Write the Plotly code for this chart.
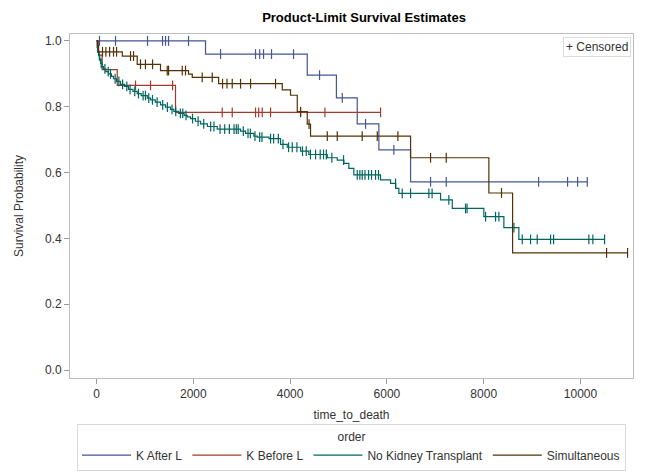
import numpy as np
import plotly.graph_objects as go

# ---------------- data ----------------
groups = ["K After L", "K Before L", "No Kidney Transplant", "Simultaneous"]

# K After L
kal_event_t = [2252, 4354, 4957, 5387, 5834, 6489]
kal_event_s = [0.960, 0.896, 0.827, 0.748, 0.669, 0.572]
kal_cens_t = [62, 393, 1054, 1364, 1426, 1488, 1901, 2563, 3286, 3371, 3451, 3616, 4071,
              4608, 5078, 5559, 6144, 6902, 7226, 9134, 9733, 9940, 10140]

# K Before L
kbl_event_t = [41, 117, 428, 1632]
kbl_event_s = [0.957, 0.913, 0.865, 0.783]
kbl_cens_t = [806, 1116, 1571, 2597, 2804, 3286, 3351, 3424, 3596, 4216, 4719, 5869]

# No Kidney Transplant
nkt_event_t = [14, 29, 47, 67, 83, 116, 144, 193, 248, 308, 351, 414, 496, 578, 662, 751,
               841, 924, 1048, 1116, 1213, 1322, 1425, 1529, 1598, 1695, 1810, 1874, 1942,
               2042, 2149, 2292, 2494, 2976, 3079, 3251, 3320, 3563, 3802, 3941, 4216, 4387,
               4768, 4974, 5111, 5214, 5317, 5869, 6076, 6182, 6247, 7109, 7351, 8003, 8417,
               8727]
nkt_event_s = [0.980, 0.965, 0.955, 0.945, 0.932, 0.922, 0.915, 0.907, 0.900, 0.892, 0.885,
               0.877, 0.868, 0.862, 0.853, 0.847, 0.840, 0.834, 0.826, 0.821, 0.814, 0.806,
               0.799, 0.792, 0.786, 0.780, 0.774, 0.769, 0.764, 0.756, 0.748, 0.740, 0.732,
               0.726, 0.719, 0.711, 0.708, 0.703, 0.686, 0.677, 0.665, 0.655, 0.645, 0.638,
               0.628, 0.613, 0.593, 0.578, 0.567, 0.552, 0.537, 0.517, 0.491, 0.466, 0.433,
               0.397]
nkt_cens_t = [24, 58, 96, 173, 241, 289, 385, 462, 539, 626, 693, 790, 867, 963, 1011, 1079,
              1156, 1252, 1367, 1464, 1560, 1637, 1733, 1782, 1849, 1984, 2099, 2215, 2359,
              2427, 2552, 2648, 2745, 2841, 2889, 2928, 3033, 3130, 3178, 3274, 3371, 3419,
              3596, 3659, 3756, 3852, 3968, 4045, 4141, 4256, 4334, 4420, 4526, 4622, 4690,
              4748, 4863, 5104, 5387, 5441, 5490, 5547, 5621, 5682, 5765, 5827, 6179, 6317,
              6489, 6867, 6934, 7280, 7625, 7656, 8039, 8245, 8314, 8624, 8797, 8968, 9106,
              9382, 9444, 10173, 10256, 10498]

# Simultaneous
sim_event_t = [19, 41, 532, 841, 1322, 1901, 1978, 2523, 3838, 4009, 4148, 4354, 4422, 6489,
               8107, 8597]
sim_event_s = [0.985, 0.967, 0.954, 0.929, 0.910, 0.899, 0.889, 0.870, 0.851, 0.835, 0.785,
               0.747, 0.711, 0.645, 0.538, 0.356]
sim_cens_t = [124, 193, 270, 351, 414, 703, 765, 909, 1011, 1158, 1461, 1488, 1771, 1839,
              2184, 2391, 2604, 2696, 2804, 2976, 3183, 3699, 4216, 4391, 4768, 4974, 5490,
              5801, 6227, 6902, 7226, 8368, 10539, 10973]

x_ticks = [0, 2000, 4000, 6000, 8000, 10000]
y_ticks = [0.0, 0.2, 0.4, 0.6, 0.8, 1.0]

colors = ["#445694", "#A23A2E", "#01665E", "#543005"]

series = [
    (kal_event_t, kal_event_s, kal_cens_t),
    (kbl_event_t, kbl_event_s, kbl_cens_t),
    (nkt_event_t, nkt_event_s, nkt_cens_t),
    (sim_event_t, sim_event_s, sim_cens_t),
]

FONT = "Liberation Sans, Arial, sans-serif"
fig = go.Figure()

for name, color, (et, es, ct) in zip(groups, colors, series):
    t_all = np.array([0] + list(et))
    s_all = np.array([1.0] + list(es))
    t_end = max(max(ct), max(et))
    xs = list(t_all) + [t_end]
    ys = list(s_all) + [s_all[-1]]
    fig.add_trace(go.Scatter(
        x=xs, y=ys, mode="lines", line=dict(color=color, width=1.2, shape="hv"),
        name=name, legendgroup=name, hoverinfo="skip"))
    ct_arr = np.array(ct)
    idx = np.searchsorted(t_all, ct_arr, side="right") - 1
    fig.add_trace(go.Scatter(
        x=ct_arr, y=s_all[idx], mode="markers",
        marker=dict(symbol="line-ns-open", size=7, color=color,
                    line=dict(color=color, width=1.2)),
        name=name, legendgroup=name, showlegend=False))

fig.update_layout(
    width=646, height=472,
    margin=dict(l=70, r=13, t=34, b=94, autoexpand=False),
    paper_bgcolor="white", plot_bgcolor="white",
    font=dict(family=FONT, size=12, color="#333333"),
    title=dict(text="<b>Product-Limit Survival Estimates</b>", x=0.5635, xanchor="center",
               y=0.964, yanchor="middle", font=dict(size=13, color="#000000")),
    showlegend=True,
    legend=dict(
        orientation="h", x=0.5, xanchor="center", y=-0.2703, yanchor="bottom",
        title=dict(text="order", side="top center", font=dict(size=12)),
        bordercolor="#d8d8d8", borderwidth=1, bgcolor="white",
        font=dict(size=12, color="#333333"), tracegroupgap=0, itemwidth=49,
    ),
    annotations=[dict(
        text="+ Censored", x=1, y=1, xref="paper", yref="paper", xanchor="right",
        yanchor="top", showarrow=False, xshift=-2, yshift=-3,
        font=dict(size=12, color="#333333"), bordercolor="#dcdcdc", borderwidth=1,
        borderpad=2, bgcolor="white")],
)

fig.update_xaxes(
    range=[-548, 11085], tickvals=x_ticks, ticktext=[str(v) for v in x_ticks],
    showgrid=False, zeroline=False, showline=True, mirror=True, linecolor="#bdbdbd",
    linewidth=1, ticks="outside", ticklen=5, tickcolor="#9a9a9a", automargin=False,
    tickfont=dict(size=12, color="#333333"),
    title=dict(text="time_to_death", standoff=10, font=dict(size=12, color="#333333")),
)
fig.update_yaxes(
    range=[-0.024, 1.021], tickvals=y_ticks, ticktext=[f"{v:.1f}" for v in y_ticks],
    showgrid=False, zeroline=False, showline=True, mirror=True, linecolor="#bdbdbd",
    linewidth=1, ticks="outside", ticklen=5, tickcolor="#9a9a9a", automargin=False,
    tickfont=dict(size=12, color="#333333"),
    title=dict(text="Survival Probability", standoff=18, font=dict(size=12, color="#333333")),
)

fig.write_html("out.html", config={"displayModeBar": False},
               post_script="document.body.style.margin='0';")
